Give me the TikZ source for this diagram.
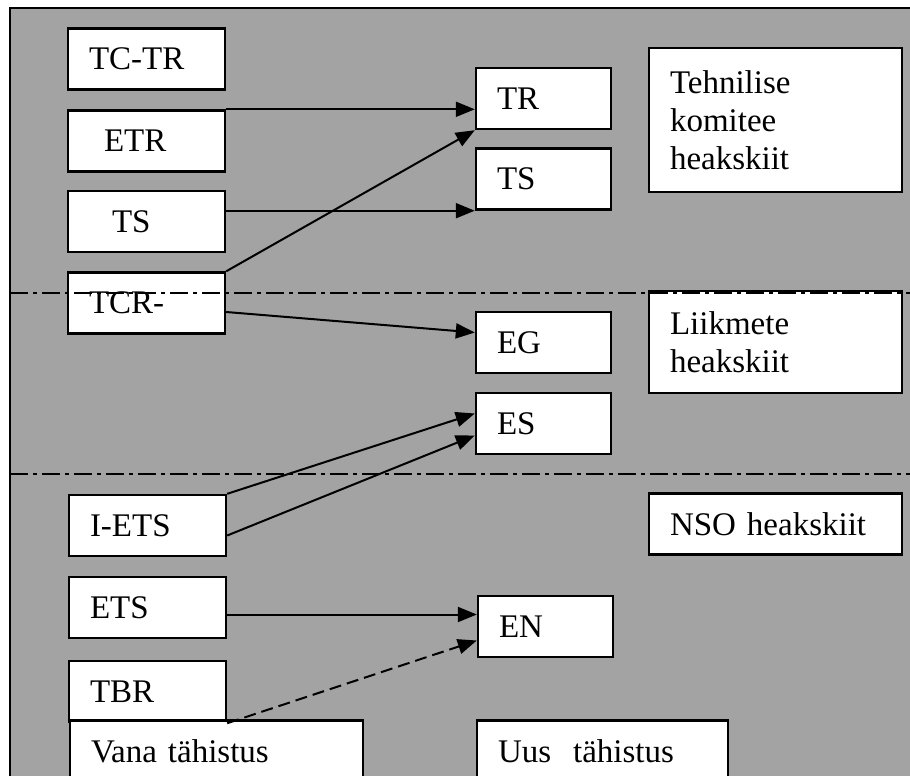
\documentclass[tikz,border=0pt]{standalone}
\usepackage{fontspec}
\setmainfont{Liberation Serif}
\usetikzlibrary{arrows.meta,calc}

\begin{document}
\begin{tikzpicture}[x=0.5pt,y=-0.5pt,
    every node/.style={font=\fontsize{16.5}{19}\selectfont},
    card/.style={draw,line width=1.2pt,fill=white,inner xsep=10.5pt,inner ysep=0pt,align=left,minimum height=30.5pt},
    oldcard/.style={card,minimum width=78.5pt,text width=57.5pt},
    newcard/.style={card,minimum width=67.5pt,text width=46.5pt},
    notecard/.style={card,minimum width=126.5pt,text width=105.5pt},
    link/.style={line width=1pt,-{Triangle[length=9.5pt,width=7.5pt]}},
    divider/.style={line width=1pt,dash pattern=on 9pt off 2.5pt on 2pt off 2.5pt}]
    % Background sheet
    \clip (0,0) rectangle (910,776);
    \fill [gray!72] (10,8) rectangle (920,790);
    \draw [line width=1.2pt] (10,790) -- (10,8) -- (920,8);

    % Old designations
    \node [oldcard] (tctr) at (146.5,59) {TC-TR};
    \node [oldcard] (etr) at (146.5,141) {\hspace{7.5pt}ETR};
    \node [oldcard] (tsold) at (146.5,221.5) {\hspace{11.5pt}TS};
    \node [oldcard] (tcr) at (146.5,303) {TCR-};
    \node [oldcard] (iets) at (147.5,525.5) {I-ETS};
    \node [oldcard] (ets) at (147.5,607.5) {ETS};
    \node [oldcard] (tbr) at (147.5,691.5) {TBR};
    \node [card,minimum width=146.5pt,text width=125.5pt] (vana) at (216.5,751) {Vana tähistus};

    % New designations
    \node [newcard] (tr) at (543.5,98.5) {TR};
    \node [newcard] (tsnew) at (543.5,179) {TS};
    \node [newcard] (eg) at (543.5,342.5) {EG};
    \node [newcard] (es) at (543.5,423.5) {ES};
    \node [newcard] (en) at (545.5,626.5) {EN};
    \node [card,minimum width=125.5pt,text width=104.5pt] (uus) at (602.5,751) {Uus\ \ tähistus};

    % Approval levels
    \node [notecard,minimum height=72pt] (tk) at (775.5,120) {Tehnilise\\komitee\\heakskiit};
    \node [notecard,minimum height=51pt] (lk) at (775.5,342) {Liikmete\\heakskiit};
    \node [notecard] (nso) at (775.5,524) {NSO heakskiit};

    % Level borders
    \draw [divider] (10,293) -- (910,293);
    \draw [divider] (10,474) -- (910,474);

    % Mapping
    \coordinate (etsout) at ($(ets.east)+(0,7)$);
    \draw [link] (etr.north east) -- (etr.north east -| tr.west);
    \draw [link] (tsnew.south west -| tsold.east) -- (tsnew.south west);
    \draw [link] (tcr.north east) -- (tr.south west);
    \draw [link] ($(tcr.east)+(0,9)$) -- ($(eg.west)+(0,-10)$);
    \draw [link] (iets.north east) -- ($(es.west)+(0,-10)$);
    \draw [link] ($(iets.east)+(0,10)$) -- ($(es.west)+(0,12)$);
    \draw [link] (etsout) -- (etsout -| en.west);
    \draw [link,dash pattern=on 6pt off 3pt] (tbr.south east) -- ($(en.west)+(0,14)$);
\end{tikzpicture}
\end{document}
